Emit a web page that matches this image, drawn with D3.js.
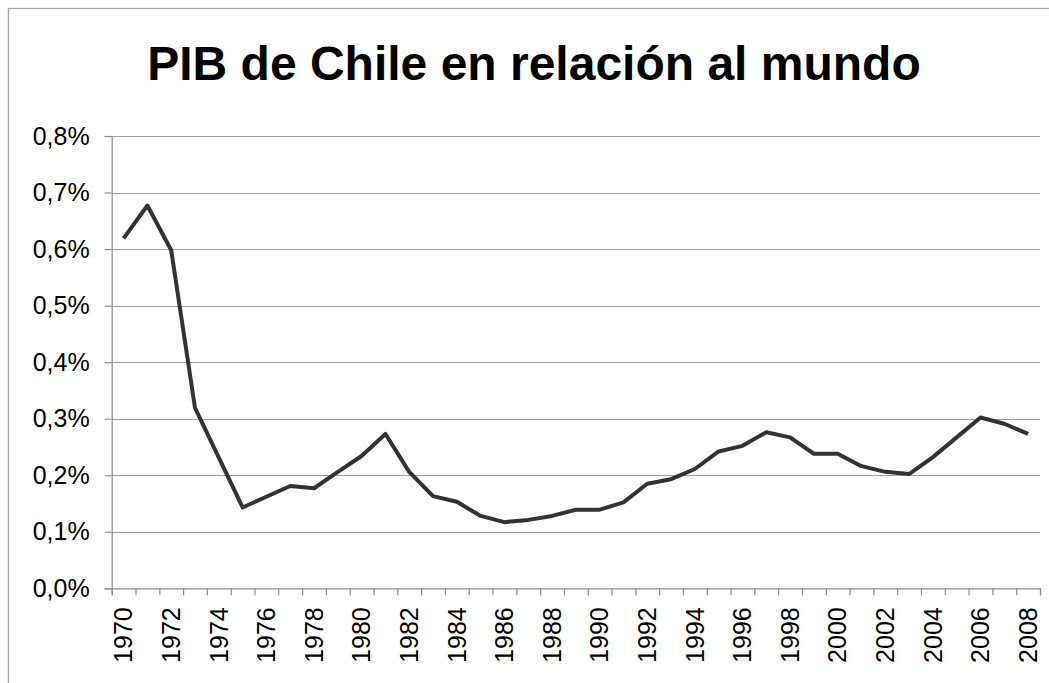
<!DOCTYPE html>
<html>
<head>
<meta charset="utf-8">
<script src="https://cdn.jsdelivr.net/npm/d3@7/dist/d3.min.js"></script>
<style>
  body { margin: 0; background: #fff; }
  svg { display: block; font-family: Arial, "Liberation Sans", sans-serif; }
</style>
</head>
<body>
<svg id="area" width="1049" height="683"></svg>
<script>
const years = [
  1970, 1971, 1972, 1973, 1974, 1975, 1976, 1977, 1978, 1979,
  1980, 1981, 1982, 1983, 1984, 1985, 1986, 1987, 1988, 1989,
  1990, 1991, 1992, 1993, 1994, 1995, 1996, 1997, 1998, 1999,
  2000, 2001, 2002, 2003, 2004, 2005, 2006, 2007, 2008,
];
// participación del PIB chileno en el PIB mundial (%)
const share = [
  0.619, 0.677, 0.598, 0.319, 0.231, 0.143, 0.162, 0.181, 0.177, 0.206,
  0.234, 0.273, 0.206, 0.163, 0.153, 0.128, 0.117, 0.121, 0.128, 0.139,
  0.139, 0.152, 0.185, 0.193, 0.211, 0.242, 0.252, 0.276, 0.267, 0.238,
  0.238, 0.216, 0.206, 0.202, 0.232, 0.267, 0.302, 0.291, 0.273,
];
const yTicks = [0, 0.1, 0.2, 0.3, 0.4, 0.5, 0.6, 0.7, 0.8];
const xLabels = years.filter((yr) => yr % 2 === 0);
const title = 'PIB de Chile en relación al mundo';

const svg = d3.select('#area');
const plotLeft = 111.7;
const plotRight = 1040;
const plotTop = 136;
const plotBottom = 588.3;

// chart border (only left and top edges show in the frame)
svg.append('rect')
  .attr('x', 8.5).attr('y', 8.5)
  .attr('width', 1100).attr('height', 800)
  .attr('fill', 'none')
  .attr('stroke', '#a6a6a6')
  .attr('stroke-width', 1.3);

svg.append('text')
  .attr('x', 534)
  .attr('y', 80)
  .attr('text-anchor', 'middle')
  .attr('font-size', 48)
  .attr('font-weight', 'bold')
  .attr('fill', '#000')
  .text(title);

const x = d3.scaleBand().domain(years).range([plotLeft, plotRight]).padding(0);
const edges = d3.scaleLinear().domain([0, years.length]).range([plotLeft, plotRight]);
const y = d3.scaleLinear().domain([0, 0.8]).range([plotBottom, plotTop]);

// gridlines
svg.append('g')
  .selectAll('line')
  .data(yTicks.filter((d) => d > 0))
  .join('line')
  .attr('x1', plotLeft).attr('x2', plotRight)
  .attr('y1', (d) => Math.round(y(d)) + 0.5)
  .attr('y2', (d) => Math.round(y(d)) + 0.5)
  .attr('stroke', '#a0a0a0')
  .attr('stroke-width', 1);

const fmt = (d) => `${d.toFixed(1).replace('.', ',')}%`;

const yAxis = svg.append('g')
  .attr('transform', `translate(${plotLeft},0)`)
  .call(d3.axisLeft(y).tickValues(yTicks).tickFormat(fmt).tickSize(7).tickPadding(15));
yAxis.selectAll('text').attr('font-size', 25).attr('fill', '#000').attr('font-family', 'Arial, "Liberation Sans", sans-serif');

// tick marks sit between categories
svg.append('g')
  .attr('transform', `translate(0,${plotBottom})`)
  .call(d3.axisBottom(edges).tickValues(d3.range(years.length + 1)).tickFormat('').tickSize(7));

const xLab = svg.append('g')
  .attr('transform', `translate(0,${plotBottom})`)
  .call(d3.axisBottom(x).tickValues(xLabels).tickSize(0).tickPadding(0));
xLab.select('.domain').remove();
xLab.selectAll('text')
  .attr('font-size', 25)
  .attr('fill', '#000')
  .attr('font-family', 'Arial, "Liberation Sans", sans-serif')
  .attr('text-anchor', 'end')
  .attr('dy', '0.35em')
  .attr('transform', 'translate(0,19) rotate(-90)')
  .attr('x', 0)
  .attr('y', 0);

svg.selectAll('.domain, .tick line').attr('stroke', '#8c8c8c').attr('stroke-width', 1.2);

const line = d3.line()
  .x((d, i) => x(years[i]) + x.bandwidth() / 2)
  .y((d) => y(d));

svg.append('path')
  .datum(share)
  .attr('d', line)
  .attr('fill', 'none')
  .attr('stroke', '#333333')
  .attr('stroke-width', 4)
  .attr('stroke-linejoin', 'round');
</script>
</body>
</html>
